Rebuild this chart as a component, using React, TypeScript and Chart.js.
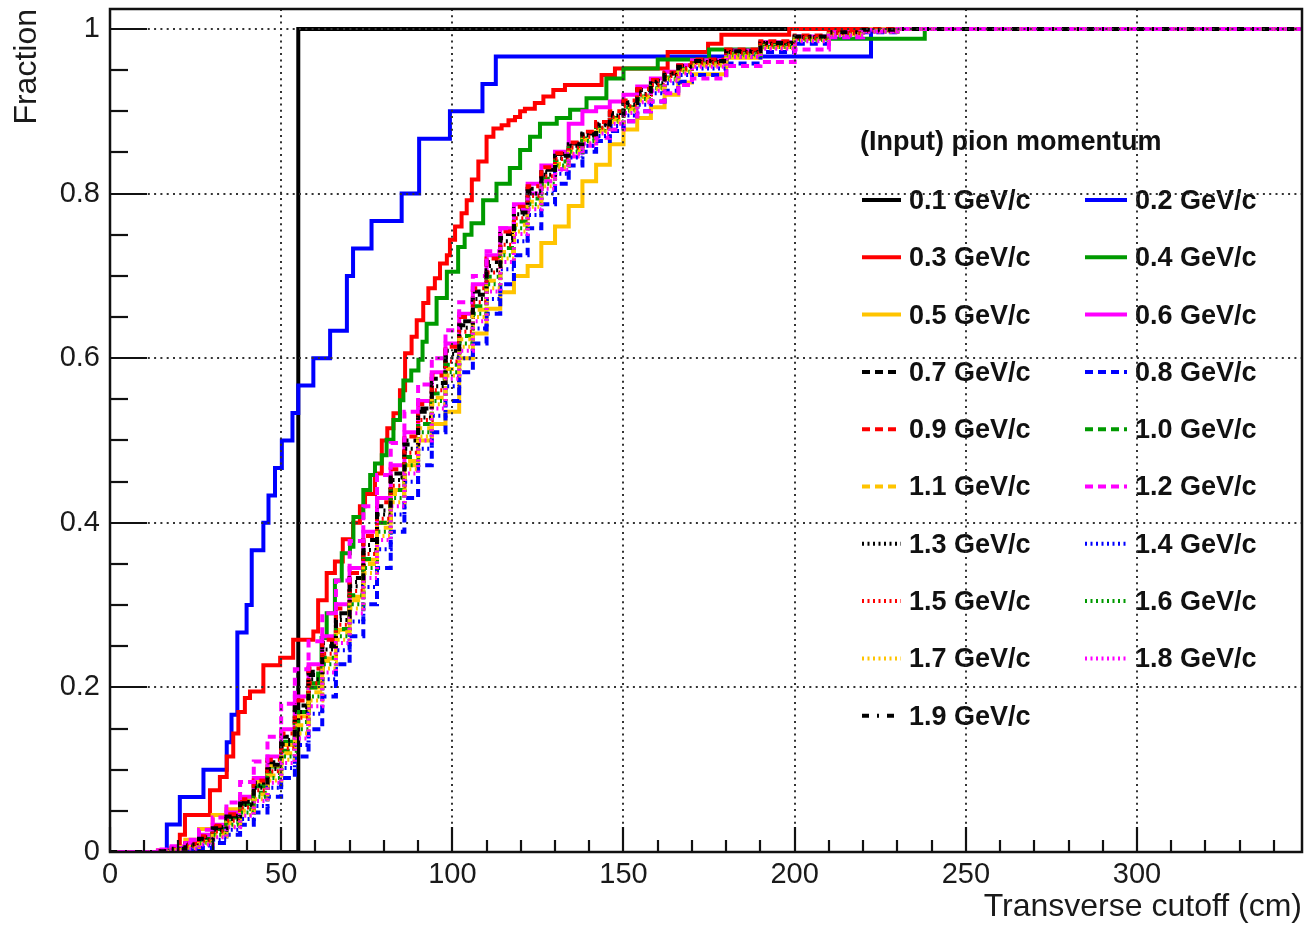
import React, { useEffect, useRef } from 'react';
import { Chart, registerables } from 'chart.js';

Chart.register(...registerables);

const FONT = '"Liberation Sans", Arial, Helvetica, sans-serif';

// ---------------- data ----------------
const legendTitle = '(Input) pion momentum';
const momentumLabels = [
  '0.1 GeV/c', '0.2 GeV/c', '0.3 GeV/c', '0.4 GeV/c', '0.5 GeV/c', '0.6 GeV/c',
  '0.7 GeV/c', '0.8 GeV/c', '0.9 GeV/c', '1.0 GeV/c', '1.1 GeV/c', '1.2 GeV/c',
  '1.3 GeV/c', '1.4 GeV/c', '1.5 GeV/c', '1.6 GeV/c', '1.7 GeV/c', '1.8 GeV/c',
  '1.9 GeV/c',
];
const seriesColors = [
  '#000000', '#0000ff', '#ff0000', '#009a00', '#ffc400', '#ff00ff',
  '#000000', '#0000ff', '#ff0000', '#009a00', '#ffc400', '#ff00ff',
  '#000000', '#0000ff', '#ff0000', '#009a00', '#ffc400', '#ff00ff',
  '#000000',
];
const seriesStyles = [
  'solid', 'solid', 'solid', 'solid', 'solid', 'solid',
  'dashed', 'dashed', 'dashed', 'dashed', 'dashed', 'dashed',
  'dotted', 'dotted', 'dotted', 'dotted', 'dotted', 'dotted',
  'dashdot',
];

const xTickValues = [0, 50, 100, 150, 200, 250, 300];
const yTickValues = [0, 0.2, 0.4, 0.6, 0.8, 1];

// 0.1 GeV/c
const p01Cutoff = [0, 55, 350];
const p01Fraction = [0, 1, 1];

// 0.2 GeV/c
const p02Cutoff = [0, 16.6, 20.4, 27.3, 34.1, 35.5, 37.2, 39.9, 41.4, 44.8, 46.3, 48.2, 50.2, 53.3, 55,
  59.4, 64.3, 69.2, 71, 76.4, 85.2, 90.3, 99.3, 108.8, 112.7, 222.3, 350];
const p02Fraction = [0, 0.0333, 0.0667, 0.1, 0.1333, 0.1667, 0.2667, 0.3, 0.3667, 0.4, 0.4333, 0.4667, 0.5, 0.5333, 0.5667,
  0.6, 0.6333, 0.7, 0.7333, 0.7667, 0.8, 0.8667, 0.9, 0.9333, 0.9667, 1, 1];

// 0.3 GeV/c
const p03Cutoff = [0, 20.4, 21.9, 29.2, 32.1, 34.1, 36, 37.5, 39.4, 40.9, 44.8, 49.7, 53.5, 59.4, 60.8,
  63.3, 65.7, 68, 71, 73, 74.5, 77.4, 79.4, 81, 82.8, 84.7, 86.2, 88.1, 89.6, 91.5,
  93, 94.9, 96.4, 98.4, 99.3, 100.8, 102.7, 104.2, 105.7, 107.6, 110, 112, 114.4, 116.4, 118.3,
  119.8, 121.2, 124.1, 126.6, 129.5, 132.9, 143.6, 147.5, 162.9, 174.7, 178.6, 198.4, 350];
const p03Fraction = [0, 0.021, 0.045, 0.075, 0.091, 0.116, 0.144, 0.17, 0.187, 0.195, 0.227, 0.236, 0.258, 0.268, 0.306,
  0.339, 0.353, 0.38, 0.4, 0.42, 0.435, 0.46, 0.5, 0.515, 0.533, 0.561, 0.606, 0.626, 0.646, 0.667,
  0.685, 0.697, 0.715, 0.725, 0.744, 0.76, 0.776, 0.792, 0.817, 0.839, 0.869, 0.879, 0.883, 0.889, 0.893,
  0.9, 0.903, 0.91, 0.918, 0.926, 0.932, 0.944, 0.952, 0.972, 0.982, 0.993, 1, 1];

// 0.4 GeV/c
const p04Cutoff = [0, 18, 22, 26, 30, 34, 38, 42, 46, 50, 54, 58, 60.8, 61.8, 63.3,
  65.7, 67.7, 70.1, 71.1, 74, 76, 77.4, 79.4, 80.8, 82.8, 84.7, 85.7, 88, 90.1, 91.3,
  92.5, 95.4, 98.4, 101.7, 103.6, 105.6, 109, 112.9, 116.8, 119.8, 122.7, 125.6, 130.5, 134.4, 139.2,
  145, 150, 160, 175, 190, 200, 238, 350];
const p04Fraction = [0, 0.003, 0.008, 0.016, 0.028, 0.042, 0.058, 0.08, 0.104, 0.134, 0.17, 0.205, 0.217, 0.26, 0.29,
  0.33, 0.363, 0.371, 0.407, 0.44, 0.458, 0.472, 0.482, 0.501, 0.525, 0.549, 0.573, 0.585, 0.598, 0.62,
  0.642, 0.673, 0.705, 0.735, 0.75, 0.764, 0.792, 0.812, 0.831, 0.853, 0.869, 0.885, 0.892, 0.902, 0.916,
  0.94, 0.952, 0.963, 0.975, 0.984, 0.988, 1, 1];

// 0.5 - 1.9 GeV/c share one cutoff grid
const gridCutoff = [
  0, 10, 14, 18, 22, 26, 30, 34, 38, 42,
  46, 50, 54, 58, 62, 66, 70, 74, 78, 82,
  86, 90, 94, 98, 102, 106, 110, 114, 118, 122,
  126, 130, 134, 138, 142, 146, 150, 154, 158, 162,
  166, 170, 180, 190, 200, 210, 220, 230, 350,
];
const p05Fraction = [
  0, 0, 0.002, 0.006, 0.015, 0.028, 0.045, 0.052, 0.065, 0.085,
  0.105, 0.13, 0.165, 0.2, 0.235, 0.27, 0.31, 0.355, 0.4, 0.44,
  0.47, 0.5, 0.52, 0.535, 0.6, 0.63, 0.66, 0.68, 0.7, 0.712,
  0.74, 0.76, 0.785, 0.815, 0.835, 0.86, 0.878, 0.892, 0.905, 0.92,
  0.935, 0.945, 0.965, 0.978, 0.988, 0.995, 1, 1, 1,
];
const p06Fraction = [
  0, 0, 0.002, 0.005, 0.011, 0.021, 0.033, 0.048, 0.067, 0.09,
  0.116, 0.149, 0.189, 0.228, 0.262, 0.301, 0.345, 0.389, 0.43, 0.47,
  0.51, 0.548, 0.583, 0.618, 0.654, 0.69, 0.725, 0.758, 0.787, 0.812,
  0.834, 0.851, 0.885, 0.9, 0.905, 0.912, 0.92, 0.93, 0.94, 0.948,
  0.956, 0.962, 0.974, 0.984, 0.991, 0.996, 0.999, 1, 1,
];
const p07Fraction = [
  0, 0, 0.0015, 0.004, 0.01, 0.018, 0.03, 0.044, 0.061, 0.084,
  0.109, 0.14, 0.178, 0.219, 0.254, 0.29, 0.333, 0.379, 0.42, 0.46,
  0.5, 0.539, 0.575, 0.609, 0.645, 0.681, 0.717, 0.751, 0.781, 0.806,
  0.829, 0.848, 0.861, 0.873, 0.885, 0.898, 0.911, 0.926, 0.937, 0.946,
  0.955, 0.962, 0.974, 0.983, 0.99, 0.996, 0.999, 1, 1,
];
const p08Fraction = [
  0, 0, 0, 0, 0.002, 0.005, 0.011, 0.021, 0.033, 0.048,
  0.067, 0.09, 0.116, 0.149, 0.189, 0.228, 0.262, 0.301, 0.345, 0.389,
  0.43, 0.47, 0.51, 0.548, 0.583, 0.618, 0.654, 0.69, 0.725, 0.758,
  0.787, 0.812, 0.834, 0.851, 0.864, 0.876, 0.888, 0.9, 0.912, 0.925,
  0.936, 0.944, 0.958, 0.972, 0.982, 0.99, 0.996, 1, 1,
];
const p09Fraction = [
  0, 0, 0.002, 0.005, 0.01, 0.019, 0.032, 0.046, 0.064, 0.087,
  0.112, 0.144, 0.184, 0.223, 0.258, 0.296, 0.339, 0.384, 0.425, 0.465,
  0.505, 0.544, 0.579, 0.614, 0.65, 0.685, 0.721, 0.754, 0.784, 0.809,
  0.832, 0.849, 0.862, 0.875, 0.887, 0.9, 0.913, 0.927, 0.938, 0.947,
  0.956, 0.963, 0.975, 0.985, 0.992, 0.997, 1, 1, 1,
];
const p10Fraction = [
  0, 0, 0.001, 0.002, 0.006, 0.013, 0.024, 0.036, 0.052, 0.072,
  0.096, 0.123, 0.158, 0.2, 0.236, 0.271, 0.312, 0.356, 0.4, 0.44,
  0.48, 0.52, 0.557, 0.592, 0.627, 0.663, 0.699, 0.734, 0.766, 0.794,
  0.818, 0.839, 0.855, 0.867, 0.879, 0.892, 0.905, 0.918, 0.931, 0.941,
  0.951, 0.958, 0.97, 0.98, 0.988, 0.994, 0.998, 1, 1,
];
const p11Fraction = [
  0, 0, 0, 0.002, 0.006, 0.012, 0.022, 0.035, 0.05, 0.07,
  0.093, 0.12, 0.154, 0.194, 0.232, 0.267, 0.306, 0.35, 0.394, 0.435,
  0.475, 0.515, 0.552, 0.587, 0.623, 0.659, 0.694, 0.729, 0.762, 0.79,
  0.815, 0.836, 0.853, 0.865, 0.877, 0.89, 0.903, 0.917, 0.929, 0.94,
  0.95, 0.957, 0.969, 0.979, 0.988, 0.994, 0.998, 1, 1,
];
const p12Fraction = [
  0, 0, 0.003, 0.007, 0.015, 0.027, 0.042, 0.06, 0.085, 0.11,
  0.14, 0.18, 0.222, 0.256, 0.29, 0.33, 0.378, 0.42, 0.458, 0.497,
  0.535, 0.568, 0.6, 0.634, 0.668, 0.7, 0.73, 0.758, 0.78, 0.8,
  0.815, 0.83, 0.845, 0.858, 0.868, 0.878, 0.888, 0.9, 0.912, 0.922,
  0.932, 0.94, 0.955, 0.96, 0.975, 0.99, 0.997, 1, 1,
];
const p13Fraction = [
  0, 0, 0.001, 0.003, 0.008, 0.015, 0.027, 0.04, 0.057, 0.078,
  0.101, 0.131, 0.17, 0.21, 0.246, 0.282, 0.323, 0.367, 0.41, 0.452,
  0.49, 0.528, 0.566, 0.601, 0.637, 0.672, 0.707, 0.742, 0.775, 0.8,
  0.823, 0.843, 0.858, 0.871, 0.883, 0.895, 0.908, 0.921, 0.934, 0.944,
  0.952, 0.96, 0.972, 0.982, 0.99, 0.995, 0.998, 1, 1,
];
const p14Fraction = [
  0, 0, 0, 0.001, 0.003, 0.008, 0.015, 0.027, 0.04, 0.056,
  0.078, 0.102, 0.13, 0.168, 0.21, 0.245, 0.28, 0.322, 0.368, 0.41,
  0.45, 0.49, 0.53, 0.566, 0.6, 0.636, 0.672, 0.708, 0.742, 0.774,
  0.8, 0.824, 0.844, 0.858, 0.87, 0.882, 0.895, 0.908, 0.922, 0.934,
  0.944, 0.952, 0.966, 0.978, 0.987, 0.993, 0.997, 1, 1,
];
const p15Fraction = [
  0, 0, 0.001, 0.003, 0.007, 0.014, 0.025, 0.038, 0.054, 0.075,
  0.098, 0.126, 0.163, 0.205, 0.241, 0.276, 0.317, 0.362, 0.405, 0.445,
  0.485, 0.525, 0.561, 0.596, 0.632, 0.668, 0.704, 0.738, 0.77, 0.797,
  0.821, 0.842, 0.856, 0.869, 0.88, 0.893, 0.906, 0.92, 0.932, 0.943,
  0.952, 0.959, 0.971, 0.981, 0.989, 0.995, 0.998, 1, 1,
];
const p16Fraction = [
  0, 0, 0, 0.002, 0.005, 0.011, 0.021, 0.033, 0.048, 0.067,
  0.09, 0.116, 0.149, 0.189, 0.228, 0.262, 0.301, 0.345, 0.389, 0.43,
  0.47, 0.51, 0.548, 0.583, 0.618, 0.654, 0.69, 0.725, 0.758, 0.787,
  0.812, 0.834, 0.851, 0.864, 0.876, 0.888, 0.901, 0.915, 0.928, 0.939,
  0.948, 0.956, 0.968, 0.978, 0.987, 0.993, 0.997, 1, 1,
];
const p17Fraction = [
  0, 0, 0, 0.002, 0.005, 0.01, 0.019, 0.031, 0.045, 0.064,
  0.087, 0.112, 0.144, 0.184, 0.223, 0.258, 0.296, 0.339, 0.384, 0.425,
  0.465, 0.505, 0.544, 0.579, 0.614, 0.65, 0.685, 0.721, 0.754, 0.784,
  0.809, 0.832, 0.849, 0.862, 0.875, 0.887, 0.9, 0.913, 0.927, 0.938,
  0.947, 0.956, 0.967, 0.977, 0.986, 0.993, 0.997, 1, 1,
];
const p18Fraction = [
  0, 0, 0, 0.001, 0.004, 0.009, 0.018, 0.03, 0.044, 0.062,
  0.084, 0.108, 0.138, 0.177, 0.218, 0.254, 0.29, 0.333, 0.379, 0.42,
  0.46, 0.5, 0.539, 0.575, 0.609, 0.645, 0.681, 0.717, 0.751, 0.781,
  0.806, 0.829, 0.848, 0.861, 0.873, 0.885, 0.898, 0.911, 0.925, 0.937,
  0.946, 0.954, 0.966, 0.976, 0.985, 0.992, 0.997, 1, 1,
];
const p19Fraction = [
  0, 0, 0.001, 0.004, 0.009, 0.016, 0.029, 0.043, 0.059, 0.081,
  0.106, 0.136, 0.176, 0.215, 0.25, 0.286, 0.328, 0.373, 0.415, 0.455,
  0.495, 0.535, 0.57, 0.605, 0.64, 0.677, 0.712, 0.746, 0.777, 0.803,
  0.826, 0.846, 0.86, 0.872, 0.884, 0.897, 0.91, 0.924, 0.936, 0.946,
  0.954, 0.961, 0.973, 0.983, 0.991, 0.996, 0.999, 1, 1,
];

const seriesCutoffs = [
  p01Cutoff, p02Cutoff, p03Cutoff, p04Cutoff,
  gridCutoff, gridCutoff, gridCutoff, gridCutoff, gridCutoff, gridCutoff, gridCutoff, gridCutoff,
  gridCutoff, gridCutoff, gridCutoff, gridCutoff, gridCutoff, gridCutoff, gridCutoff,
];
const seriesFractions = [
  p01Fraction, p02Fraction, p03Fraction, p04Fraction, p05Fraction, p06Fraction, p07Fraction,
  p08Fraction, p09Fraction, p10Fraction, p11Fraction, p12Fraction, p13Fraction, p14Fraction,
  p15Fraction, p16Fraction, p17Fraction, p18Fraction, p19Fraction,
];

// ---------------- styles ----------------
const DASHES: Record<string, number[]> = {
  solid: [],
  dashed: [8, 5],
  dotted: [2, 3.5],
  dashdot: [7, 8, 2, 8],
};
const LINE_W = 4;
const TEXT_COLOR = '#1a1a1a';

const rootDecor = {
  id: 'rootDecor',
  afterDatasetsDraw(chart: any) {
    const { ctx, chartArea: a, scales } = chart;
    const x = scales.x;
    const y = scales.y;
    ctx.save();

    // legend (drawn under the grid, as ROOT does)
    ctx.textBaseline = 'middle';
    ctx.textAlign = 'left';
    ctx.fillStyle = '#111';
    ctx.font = `bold 27px ${FONT}`;
    ctx.fillText(legendTitle, 860, 143);
    chart.data.datasets.forEach((ds: any, i: number) => {
      const col = i % 2;
      const row = Math.floor(i / 2);
      const ly = 200 + row * 57.3;
      const x0 = col ? 1085 : 862;
      const x1 = col ? 1127 : 901;
      const tx = col ? 1135 : 909;
      ctx.strokeStyle = ds.borderColor;
      ctx.lineWidth = LINE_W;
      ctx.setLineDash(ds.borderDash || []);
      ctx.beginPath();
      ctx.moveTo(x0, ly);
      ctx.lineTo(x1, ly);
      ctx.stroke();
      ctx.setLineDash([]);
      ctx.fillText(ds.label, tx, ly + 1.5);
    });

    // dotted grid
    ctx.strokeStyle = '#333';
    ctx.lineWidth = 2;
    ctx.setLineDash([2, 4.3]);
    for (const v of xTickValues) {
      if (v === 0) continue;
      const px = Math.round(x.getPixelForValue(v));
      ctx.beginPath();
      ctx.moveTo(px, a.top);
      ctx.lineTo(px, a.bottom);
      ctx.stroke();
    }
    for (const v of yTickValues) {
      if (v === 0) continue;
      const py = Math.round(y.getPixelForValue(v));
      ctx.beginPath();
      ctx.moveTo(a.left, py);
      ctx.lineTo(a.right, py);
      ctx.stroke();
    }
    ctx.setLineDash([]);

    // ticks
    ctx.strokeStyle = '#111';
    ctx.lineWidth = 2.2;
    for (let v = 0; v <= x.max + 1e-6; v += 10) {
      const px = Math.round(x.getPixelForValue(v));
      const major = Math.abs(v % 50) < 1e-6;
      const len = major ? 25 : 12;
      ctx.beginPath();
      ctx.moveTo(px, a.bottom);
      ctx.lineTo(px, a.bottom - len);
      ctx.stroke();
    }
    for (let k = 0; k * 0.05 <= y.max + 1e-6; k++) {
      const v = k * 0.05;
      const py = Math.round(y.getPixelForValue(v));
      const len = k % 4 === 0 ? 37 : 18;
      ctx.beginPath();
      ctx.moveTo(a.left, py);
      ctx.lineTo(a.left + len, py);
      ctx.stroke();
    }

    // frame
    ctx.lineWidth = 2.5;
    ctx.strokeRect(a.left, a.top, a.right - a.left, a.bottom - a.top);
    ctx.restore();
  },
};

export default function App() {
  const ref = useRef<HTMLCanvasElement>(null);

  useEffect(() => {
    const datasets = momentumLabels.map((label, i) => ({
      label,
      data: seriesCutoffs[i].map((c, j) => ({ x: c, y: seriesFractions[i][j] })),
      borderColor: seriesColors[i],
      backgroundColor: seriesColors[i],
      borderWidth: LINE_W,
      borderDash: DASHES[seriesStyles[i]],
      stepped: true,
      pointRadius: 0,
      fill: false,
      tension: 0,
      order: -i,
    }));

    const chart = new Chart(ref.current as HTMLCanvasElement, {
      type: 'line',
      data: { datasets },
      options: {
        animation: false,
        responsive: false,
        devicePixelRatio: 1,
        layout: { autoPadding: false, padding: { left: 0, right: 4, top: 9, bottom: 0 } },
        plugins: {
          legend: { display: false },
          tooltip: { enabled: false },
        },
        scales: {
          x: {
            type: 'linear',
            min: 0,
            max: 348.2,
            grid: { display: false, drawTicks: false },
            border: { display: false },
            afterBuildTicks: (s: any) => {
              s.ticks = xTickValues.map((v) => ({ value: v }));
            },
            afterFit: (s: any) => {
              s.height = 74;
              s.paddingLeft = 0;
              s.paddingRight = 0;
              s.paddingTop = 0;
              s.paddingBottom = 0;
            },
            ticks: {
              autoSkip: false,
              maxRotation: 0,
              minRotation: 0,
              padding: 6,
              color: TEXT_COLOR,
              font: { family: FONT, size: 29 },
              callback: (v: any) => String(v),
            },
            title: {
              display: true,
              text: 'Transverse cutoff (cm)',
              align: 'end',
              color: TEXT_COLOR,
              font: { family: FONT, size: 32 },
              padding: { top: 0, bottom: 0 },
            },
          },
          y: {
            type: 'linear',
            min: 0,
            max: 1.0243,
            grid: { display: false, drawTicks: false },
            border: { display: false },
            afterBuildTicks: (s: any) => {
              s.ticks = yTickValues.map((v) => ({ value: v }));
            },
            afterFit: (s: any) => {
              s.width = 110;
              s.paddingLeft = 0;
              s.paddingRight = 0;
              s.paddingTop = 0;
              s.paddingBottom = 0;
            },
            ticks: {
              autoSkip: false,
              padding: 10,
              color: TEXT_COLOR,
              font: { family: FONT, size: 29 },
              callback: (v: any) => (v === 0 ? '0' : v === 1 ? '1' : Number(v).toFixed(1)),
            },
            title: {
              display: true,
              text: 'Fraction',
              align: 'end',
              color: TEXT_COLOR,
              font: { family: FONT, size: 32 },
              padding: { top: 8, bottom: 0 },
            },
          },
        },
      } as any,
      plugins: [rootDecor],
    });
    return () => chart.destroy();
  }, []);

  return (
    <div style={{ position: 'fixed', left: 0, top: 0, width: 1306, height: 926, background: '#fff' }}>
      <canvas ref={ref} width={1306} height={926} style={{ display: 'block' }} />
    </div>
  );
}
